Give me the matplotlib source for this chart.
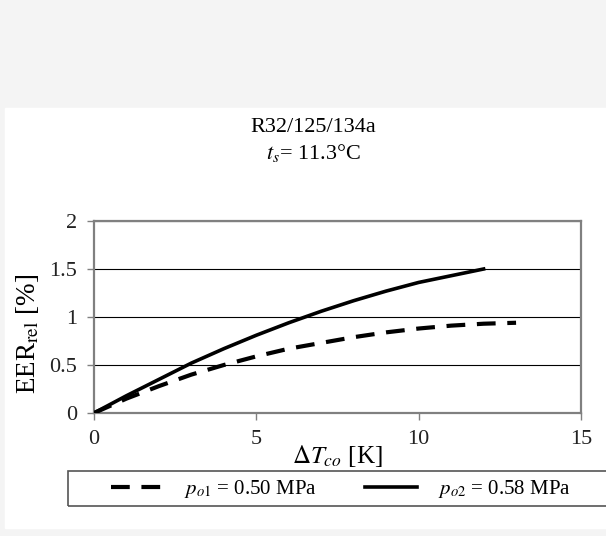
import matplotlib
matplotlib.use("Agg")
import matplotlib.pyplot as plt
from matplotlib.patches import Rectangle

plt.rcParams['font.family'] = ['Liberation Serif', 'DejaVu Serif']
plt.rcParams['mathtext.fontset'] = 'stix'

# data
dT_co = [0, 1, 2, 3, 4, 5, 6, 7, 8, 9, 10, 11, 12, 13]
eer_po1 = [0, 0.15, 0.28, 0.40, 0.50, 0.59, 0.67, 0.73, 0.79, 0.84, 0.88, 0.91, 0.93, 0.94]
dT_co2 = [0, 1, 2, 3, 4, 5, 6, 7, 8, 9, 10, 11, 12]
eer_po2 = [0, 0.18, 0.35, 0.52, 0.67, 0.81, 0.94, 1.06, 1.17, 1.27, 1.36, 1.43, 1.50]
label_po1 = r'$p_{o1}$ = 0.50 MPa'
label_po2 = r'$p_{o2}$ = 0.58 MPa'

W, H = 606, 536
fig = plt.figure(figsize=(W / 100, H / 100), dpi=100, facecolor='#f4f4f4')
# white panel behind the chart (top band stays grey like the scan)
fig.patches.append(Rectangle((5 / W, 8 / H), 1, (H - 108 - 8) / H,
                             transform=fig.transFigure, color='white', zorder=-5))
# legend frame runs off the right edge in the reference
fig.patches.append(Rectangle((68 / W, (H - 506) / H), 0.95, 35 / H,
                             transform=fig.transFigure, facecolor='none',
                             edgecolor='#555555', lw=1.2, zorder=-4))

ax = fig.add_axes([94 / W, (H - 413) / H, (581 - 94) / W, (413 - 221) / H])
ax.set_facecolor('white')

ax.plot(dT_co, eer_po1, color='black', lw=3, dashes=(4.5, 2.8),
        dash_capstyle='butt', label=label_po1, zorder=3)
ax.plot(dT_co2, eer_po2, color='black', lw=2.6, label=label_po2, zorder=3)

ax.set_xlim(0, 15)
ax.set_ylim(0, 2)
ax.set_xticks([0, 5, 10, 15])
ax.set_yticks([0, 0.5, 1, 1.5, 2])
ax.set_yticklabels(['0', '0.5', '1', '1.5', '2'])
ax.yaxis.grid(True, color='black', lw=0.8)
ax.set_axisbelow(True)
for s in ax.spines.values():
    s.set_color('#808080')
    s.set_linewidth(1.6)
ax.tick_params(axis='both', direction='out', length=5, width=1, color='#808080',
               labelsize=16, labelcolor='#222222')
ax.tick_params(axis='x', pad=7)
ax.tick_params(axis='y', pad=7)

ax.set_xlabel(r'$\Delta T_{co}$ [K]', fontsize=18, labelpad=-4)
ax.set_ylabel(r'EER$_{\rm rel}$ [%]', fontsize=19.5)
ax.yaxis.set_label_coords(-0.108, 0.41)

fig.text(313 / W, 1 - 128 / H, 'R32/125/134a', ha='center', va='center', fontsize=16)
fig.text(313 / W, 1 - 153 / H, r'$t_s$= 11.3°C', ha='center', va='center', fontsize=16)

leg = fig.legend(loc='center', ncol=2, bbox_to_anchor=(341 / W, (H - 489) / H),
                 fontsize=15, handlelength=2.5, handletextpad=1.0,
                 columnspacing=2.3, frameon=False, borderaxespad=0)

fig.savefig('out.png', dpi=100, facecolor=fig.get_facecolor())
